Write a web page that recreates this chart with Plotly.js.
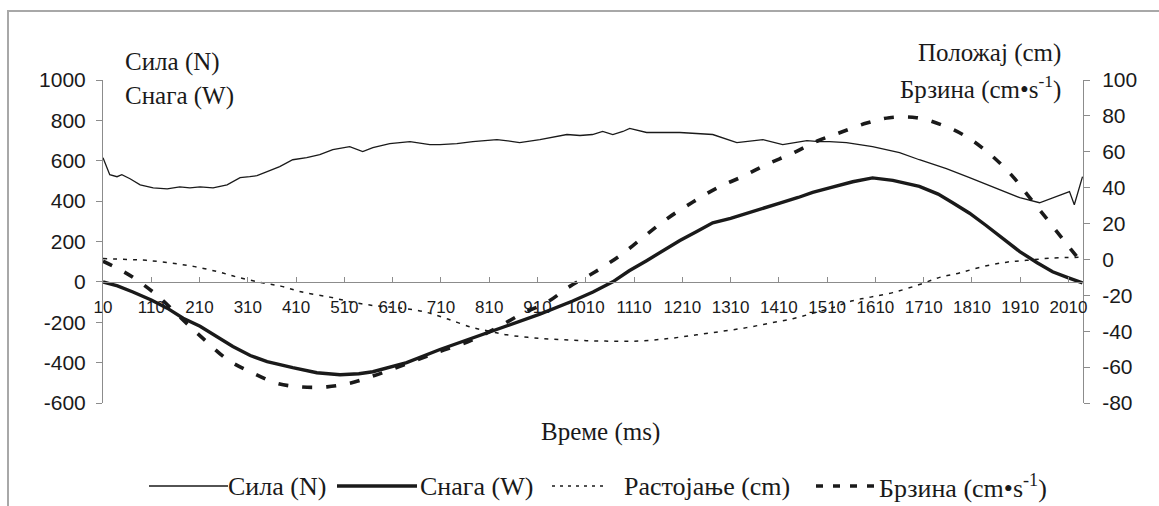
<!DOCTYPE html>
<html>
<head>
<meta charset="utf-8">
<script src="https://cdn.plot.ly/plotly-3.0.1.min.js"></script>
<style>html,body{margin:0;padding:0;background:#fff;}#chart{width:1159px;height:506px;}</style>
</head>
<body>
<div id="chart"></div>
<script>
// Сила (N) – left axis
var forceTime = [10,24,39,49,66,87,114,143,169,190,211,238,267,279,294,314,329,350,376,403,432,459,486,521,548,569,604,646,687,708,743,776,826,859,873,915,971,998,1024,1045,1066,1087,1101,1136,1205,1273,1323,1377,1418,1468,1494,1515,1550,1604,1660,1701,1757,1805,1853,1909,1950,1991,2012,2022,2039];
var forceN    = [615,531,521,531,511,481,466,461,471,466,471,466,481,496,516,521,526,546,571,605,615,630,655,670,645,665,685,695,680,680,685,695,705,695,690,705,730,725,730,745,730,745,760,740,740,730,690,705,680,700,695,695,690,670,640,605,561,516,471,417,392,427,447,382,521];
// Снага (W) – left axis
var powerTime = [10,40,72,110,143,176,211,245,279,315,350,403,453,501,540,569,600,639,708,776,846,915,983,1025,1066,1100,1136,1170,1205,1240,1273,1310,1343,1380,1412,1450,1480,1515,1563,1604,1646,1701,1740,1770,1805,1840,1875,1909,1945,1977,2010,2039];
var powerW    = [0,-20,-50,-90,-130,-180,-220,-270,-320,-365,-395,-425,-450,-460,-455,-445,-425,-400,-335,-278,-218,-160,-95,-50,0,55,105,155,205,250,293,315,338,365,390,418,443,466,496,515,503,473,435,392,340,278,215,150,95,50,20,-5];
// Растојање (cm) – right axis
var distTime = [10,60,100,150,200,250,290,340,380,420,480,530,580,625,673,722,776,811,846,915,983,1050,1120,1184,1240,1294,1343,1391,1439,1480,1520,1563,1600,1646,1701,1743,1784,1832,1882,1923,1977,2039];
var distCm   = [0.5,0,-0.5,-2,-4,-7,-10,-13,-15,-18,-21,-24,-26,-27,-29,-33,-38,-40,-42,-44,-45,-45.5,-45.5,-44,-42,-40,-38,-35.5,-33,-30,-27,-23,-21,-18.5,-14,-10,-7.5,-4,-1.5,-0.5,0.8,1.2];
// Брзина (cm·s-1) – right axis
var velTime = [10,40,72,122,169,217,269,318,370,418,474,521,569,621,700,774,826,880,929,977,1029,1080,1132,1180,1232,1283,1333,1385,1437,1490,1540,1592,1639,1695,1747,1795,1846,1892,1925,1964,2002,2035];
var velCms  = [-1,-5,-10,-20,-32,-44,-56,-63,-69,-71,-71,-69,-65,-60,-52,-45,-38,-30,-24,-15,-7,2,13,23,32,40,46,53,59,66,71,76,79,79,75,69,59,47,36,23,10,-1];

var seriesNames = ['Сила (N)','Снага (W)','Растојање (cm)','Брзина (cm•s<sup>-1</sup>)'];
var xTickStart = 10, xTickStep = 100;
var leftTicks  = [-600,-400,-200,0,200,400,600,800,1000];
var rightTicks = [-80,-60,-40,-20,0,20,40,60,80,100];

var serif = 'Liberation Serif';
var sans = 'Liberation Sans';
var ink = '#1a1a1a';
var axisGray = '#8c8c8c';

var styles = [
  {color: ink, width: 1.3, dash: 'solid'},
  {color: ink, width: 3.4, dash: 'solid'},
  {color: ink, width: 1.5, dash: '4px,6px'},
  {color: ink, width: 3.6, dash: '10px,14px'}
];

var traces = [
  {x: forceTime, y: forceN, name: seriesNames[0], type: 'scatter', mode: 'lines', yaxis: 'y', line: styles[0]},
  {x: powerTime, y: powerW, name: seriesNames[1], type: 'scatter', mode: 'lines', yaxis: 'y', line: styles[1]},
  {x: distTime, y: distCm, name: seriesNames[2], type: 'scatter', mode: 'lines', yaxis: 'y2',
   line: Object.assign({shape: 'spline'}, styles[2])},
  {x: velTime, y: velCms, name: seriesNames[3], type: 'scatter', mode: 'lines', yaxis: 'y2',
   line: Object.assign({shape: 'spline'}, styles[3])}
];

function yAxisBase(extra) {
  var a = {showgrid: false, zeroline: false, showline: false, ticks: 'outside', ticklen: 6,
    tickcolor: axisGray, tickwidth: 1, fixedrange: true};
  for (var k in extra) a[k] = extra[k];
  return a;
}
function labels(arr) { return arr.map(function (v) { return String(v); }); }

// manual legend (pixel positions -> paper coords)
var plotL = 103, plotW = 980, plotB = 403, plotH = 323;
function px(x) { return (x - plotL) / plotW; }
function py(y) { return (plotB - y) / plotH; }
var legendY = 486;
var legendItems = [
  {x0: 149, x1: 228, tx: 228, dash: 'solid'},
  {x0: 337, x1: 417, tx: 420, dash: 'solid'},
  {x0: 552, x1: 606, tx: 624, dash: '3px,5px'},
  {x0: 816, x1: 878, tx: 879, dash: '7px,10px'}
];

var shapes = [
  {type: 'rect', xref: 'paper', yref: 'paper', x0: px(8), x1: px(1166), y0: py(515), y1: py(11),
   line: {color: '#a8a8a8', width: 2}, fillcolor: 'rgba(0,0,0,0)', layer: 'below'}
];
var annotations = [
  {text: 'Сила (N)', xref: 'paper', yref: 'paper', x: px(123), y: py(62), xanchor: 'left', yanchor: 'middle',
   showarrow: false, font: {family: serif, size: 25, color: ink}},
  {text: 'Снага (W)', xref: 'paper', yref: 'paper', x: px(123), y: py(96), xanchor: 'left', yanchor: 'middle',
   showarrow: false, font: {family: serif, size: 25, color: ink}},
  {text: 'Положај (cm)', xref: 'paper', yref: 'paper', x: px(1063), y: py(53), xanchor: 'right', yanchor: 'middle',
   showarrow: false, font: {family: serif, size: 25, color: ink}},
  {text: 'Брзина (cm•s<sup>-1</sup>)', xref: 'paper', yref: 'paper', x: px(1063), y: py(88), xanchor: 'right', yanchor: 'middle',
   showarrow: false, font: {family: serif, size: 25, color: ink}},
  {text: 'Време (ms)', xref: 'paper', yref: 'paper', x: px(600), y: py(432), xanchor: 'center', yanchor: 'middle',
   showarrow: false, font: {family: serif, size: 25, color: ink}}
];
legendItems.forEach(function (it, i) {
  shapes.push({type: 'line', xref: 'paper', yref: 'paper', x0: px(it.x0), x1: px(it.x1), y0: py(legendY), y1: py(legendY),
    line: {color: styles[i].color, width: styles[i].width, dash: it.dash}});
  annotations.push({text: seriesNames[i], xref: 'paper', yref: 'paper', x: px(it.tx), y: py(legendY),
    xanchor: 'left', yanchor: 'middle', showarrow: false, xshift: -2,
    font: {family: serif, size: 26, color: ink}});
});

var layout = {
  width: 1159, height: 506,
  margin: {l: plotL, r: 1159 - plotL - plotW, t: 80, b: 506 - plotB},
  paper_bgcolor: '#fff', plot_bgcolor: 'rgba(0,0,0,0)',
  showlegend: false,
  xaxis: {range: [10, 2040], tick0: xTickStart, dtick: xTickStep, ticks: 'inside', ticklen: 5,
    tickcolor: axisGray, showline: true, linecolor: axisGray, linewidth: 1,
    anchor: 'free', position: 0.375, showgrid: false, zeroline: false,
    tickfont: {family: 'Liberation Sans Narrow, Liberation Sans', size: 17, color: ink},
    ticklabelstandoff: 10, fixedrange: true},
  yaxis: yAxisBase({range: [-600, 1000], tickmode: 'array', tickvals: leftTicks, ticktext: labels(leftTicks),
    showline: true, linecolor: axisGray,
    tickfont: {family: sans, size: 21, color: ink}, ticklabelstandoff: 6}),
  yaxis2: yAxisBase({range: [-80, 100], tickmode: 'array', tickvals: rightTicks, ticktext: labels(rightTicks),
    overlaying: 'y', side: 'right', anchor: 'x',
    showline: true, linecolor: axisGray,
    tickfont: {family: sans, size: 21, color: ink}, ticklabelstandoff: 8}),
  yaxis3: yAxisBase({range: [-600, 1000], tickmode: 'array', tickvals: leftTicks, overlaying: 'y', ticks: 'inside',
    showticklabels: false}),
  yaxis4: yAxisBase({range: [-80, 100], tickmode: 'array', tickvals: rightTicks, overlaying: 'y', side: 'right', anchor: 'x',
    ticks: 'inside', showticklabels: false}),
  annotations: annotations,
  shapes: shapes
};

Plotly.newPlot('chart', traces, layout, {displayModeBar: false, staticPlot: true});
</script>
</body>
</html>
